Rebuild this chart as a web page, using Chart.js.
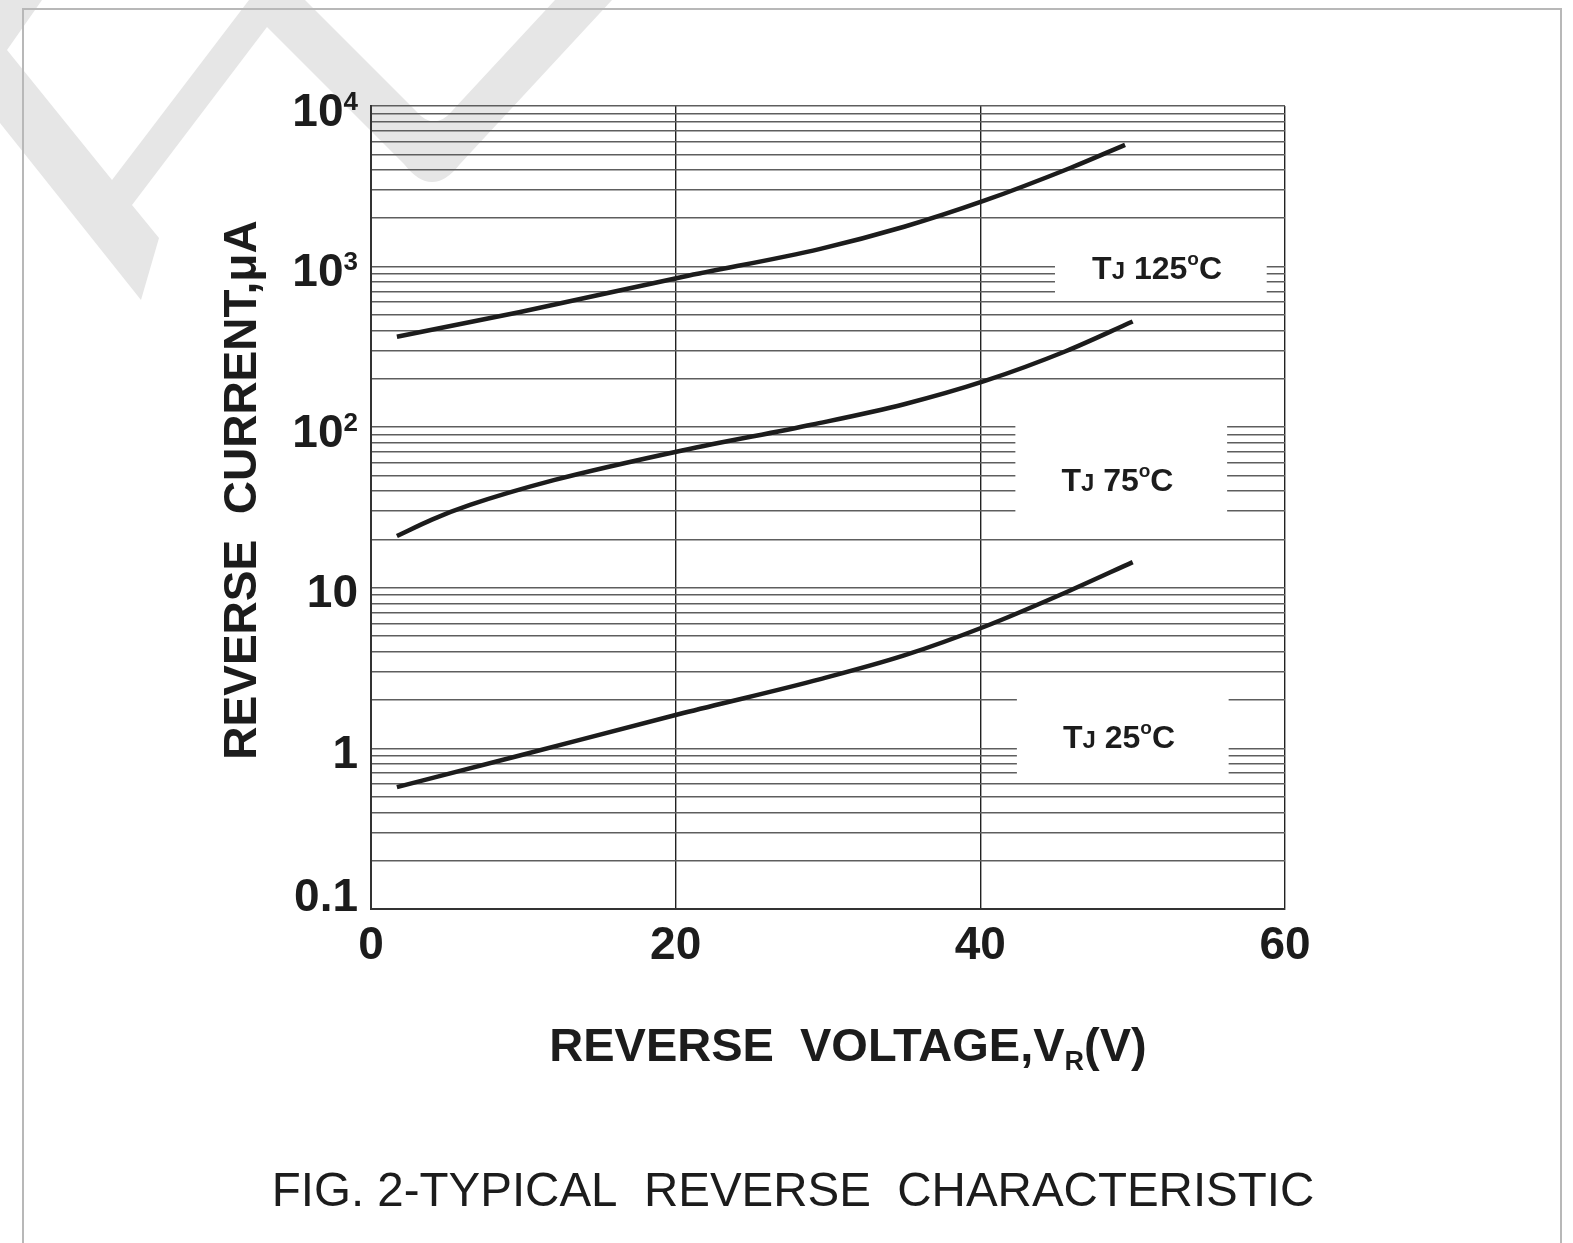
<!DOCTYPE html>
<html>
<head>
<meta charset="utf-8">
<title>FIG. 2 - Typical Reverse Characteristic</title>
<script src="https://cdn.jsdelivr.net/npm/chart.js@4.4.0/dist/chart.umd.min.js"></script>
<style>
  html, body { margin: 0; padding: 0; background: #fff; }
  #wrap { width: 1573px; height: 1243px; }
</style>
</head>
<body>
<div id="wrap"><canvas id="reverseChart" width="1573" height="1243"></canvas></div>
<script>
// Curves: reverse voltage (V) vs reverse current (uA)
const voltage125 = [1.7, 9.8, 20.5, 29.5, 35, 40.3, 45.9, 49.5];
const current125 = [366, 522, 865, 1290, 1770, 2580, 4110, 5730];

const voltage75 = [1.7, 4, 6.5, 12, 20.5, 29, 35, 40.3, 45.6, 50];
const current75 = [21, 26.6, 32.8, 46.8, 71.9, 104, 139, 194, 297, 455];

const voltage25 = [1.7, 9.7, 20.5, 29.5, 35, 40.3, 45.6, 50];
const current25 = [0.574, 0.90, 1.66, 2.70, 3.79, 5.74, 9.35, 14.45];

// axis ticks
const xTicks = [0, 20, 40, 60];
const yGridValues = [
  0.1, 0.2, 0.3, 0.4, 0.5, 0.6, 0.7, 0.8, 0.9,
  1, 2, 3, 4, 5, 6, 7, 8, 9,
  10, 20, 30, 40, 50, 60, 70, 80, 90,
  100, 200, 300, 400, 500, 600, 700, 800, 900,
  1000, 2000, 3000, 4000, 5000, 6000, 7000, 8000, 9000,
  10000
];
const yDecades = [0.1, 1, 10, 100, 1000, 10000];
const yDecadeText = ['0.1', '1', '10', '10', '10', '10'];
const yDecadeSup = ['', '', '', '2', '3', '4'];

// curve labels
const tempLabels = ['125', '75', '25'];

const FONT = '"Liberation Sans", Arial, Helvetica, sans-serif';
const INK = '#1c1c1c';

// where the curve labels sit (data units) and the white gap cut into the grid for them
const labelSpots = [
  { x: 51.6, y: 990,  box: [44.9, 58.8, 650, 1900] },
  { x: 49.0, y: 47,   box: [42.3, 56.2, 29, 128] },
  { x: 49.1, y: 1.19, box: [42.4, 56.3, 0.68, 2.6] }
];

function toPoints(xs, ys) {
  return xs.map((v, i) => ({ x: v, y: ys[i] }));
}

function drawWatermark(c) {
  c.fillStyle = '#e6e6e6';
  c.beginPath();
  c.moveTo(0, 0);
  c.lineTo(42, 0);
  c.lineTo(7, 50);
  c.lineTo(112, 180);
  c.lineTo(249, 0);
  c.lineTo(305, 0);
  c.lineTo(416, 111);
  c.quadraticCurveTo(434, 132, 452, 111);
  c.lineTo(555, 0);
  c.lineTo(612, 0);
  c.lineTo(460, 164);
  c.quadraticCurveTo(432, 200, 404, 164);
  c.lineTo(267, 27);
  c.lineTo(132, 205);
  c.lineTo(159, 238);
  c.lineTo(141, 300);
  c.lineTo(0, 123);
  c.closePath();
  c.fill();
}

function measureRun(c, parts, weight) {
  let total = 0;
  parts.forEach(p => {
    c.font = weight + ' ' + p.size + 'px ' + FONT;
    p.w = c.measureText(p.t).width;
    total += p.w;
  });
  return total;
}

// draws a run of text pieces (different sizes / baseline shifts) starting at x
function drawRun(c, parts, x, baseline, weight) {
  measureRun(c, parts, weight);
  let cx = x;
  parts.forEach(p => {
    c.font = weight + ' ' + p.size + 'px ' + FONT;
    c.fillText(p.t, cx, baseline + (p.dy || 0));
    cx += p.w;
  });
}

const decor = {
  id: 'decor',
  beforeDraw(chart) {
    const c = chart.ctx;
    c.save();
    c.fillStyle = '#fff';
    c.fillRect(0, 0, chart.width, chart.height);
    drawWatermark(c);
    // outer frame
    c.strokeStyle = '#b8b8b8';
    c.lineWidth = 2;
    c.beginPath();
    c.moveTo(23, chart.height + 5);
    c.lineTo(23, 9);
    c.lineTo(1561, 9);
    c.lineTo(1561, chart.height + 5);
    c.stroke();
    c.restore();
  },
  afterDatasetsDraw(chart) {
    const c = chart.ctx;
    const xs = chart.scales.x, ys = chart.scales.y;
    c.save();
    labelSpots.forEach((s, i) => {
      const x0 = xs.getPixelForValue(s.box[0]), x1 = xs.getPixelForValue(s.box[1]);
      const y0 = ys.getPixelForValue(s.box[3]), y1 = ys.getPixelForValue(s.box[2]);
      c.fillStyle = '#fff';
      c.fillRect(x0, y0, x1 - x0, y1 - y0);

      const parts = [
        { t: 'T', size: 32 },
        { t: 'J', size: 24 },
        { t: ' ' + tempLabels[i], size: 32 },
        { t: 'o', size: 19, dy: -14 },
        { t: 'C', size: 32 }
      ];
      const w = measureRun(c, parts, 'bold');
      const cx = xs.getPixelForValue(s.x), cy = ys.getPixelForValue(s.y);
      c.fillStyle = INK;
      c.textAlign = 'left';
      c.textBaseline = 'alphabetic';
      drawRun(c, parts, cx - w / 2, cy + 11.5, 'bold');
    });
    c.restore();
  },
  afterDraw(chart) {
    const c = chart.ctx;
    const ys = chart.scales.y;
    c.save();
    c.fillStyle = INK;
    c.textAlign = 'left';
    c.textBaseline = 'alphabetic';

    // y decade labels (10 with superscript exponent)
    yDecades.forEach((v, i) => {
      const y = Math.min(ys.getPixelForValue(v) + 3, ys.bottom - 15);
      const parts = [{ t: yDecadeText[i], size: 46 }];
      if (yDecadeSup[i]) parts.push({ t: yDecadeSup[i], size: 26, dy: -16 });
      const w = measureRun(c, parts, 'bold');
      drawRun(c, parts, 358 - w, y + 16.5, 'bold');
    });

    // x axis title
    const xTitle = [
      { t: 'REVERSE  VOLTAGE,V', size: 47 },
      { t: 'R', size: 27, dy: 9 },
      { t: '(V)', size: 47 }
    ];
    const xw = measureRun(c, xTitle, 'bold');
    drawRun(c, xTitle, 848 - xw / 2, 1061, 'bold');

    // y axis title
    c.save();
    c.translate(256, 490);
    c.rotate(-Math.PI / 2);
    c.textAlign = 'center';
    c.font = 'bold 46px ' + FONT;
    c.fillText('REVERSE  CURRENT,\u03bcA', 0, 0);
    c.restore();

    // caption
    c.textAlign = 'center';
    c.font = '47.5px ' + FONT;
    c.fillText('FIG. 2-TYPICAL  REVERSE  CHARACTERISTIC', 793, 1206);
    c.restore();
  }
};

const curveStyle = {
  borderColor: INK,
  borderWidth: 4.5,
  pointRadius: 0,
  fill: false,
  cubicInterpolationMode: 'monotone'
};

new Chart(document.getElementById('reverseChart'), {
  type: 'line',
  data: {
    datasets: [
      Object.assign({ label: 'TJ 125\u00b0C', data: toPoints(voltage125, current125) }, curveStyle),
      Object.assign({ label: 'TJ 75\u00b0C', data: toPoints(voltage75, current75) }, curveStyle),
      Object.assign({ label: 'TJ 25\u00b0C', data: toPoints(voltage25, current25) }, curveStyle)
    ]
  },
  options: {
    responsive: false,
    animation: false,
    devicePixelRatio: 1,
    layout: { padding: { left: 0, right: 288, top: 106, bottom: 0 } },
    plugins: {
      legend: { display: false },
      tooltip: { enabled: false }
    },
    scales: {
      x: {
        type: 'linear',
        min: 0,
        max: 60,
        afterBuildTicks: axis => { axis.ticks = xTicks.map(v => ({ value: v })); },
        afterFit: axis => { axis.height = 334; },
        grid: { color: '#222', lineWidth: 1.4, drawTicks: false },
        border: { display: true, color: '#333', width: 2 },
        ticks: {
          color: INK,
          padding: 10,
          maxRotation: 0,
          autoSkip: false,
          font: { family: FONT, size: 46, weight: 'bold' }
        }
      },
      y: {
        type: 'logarithmic',
        min: 0.1,
        max: 10000,
        afterBuildTicks: axis => { axis.ticks = yGridValues.map(v => ({ value: v })); },
        afterFit: axis => { axis.width = 371; },
        grid: { color: '#5e5e5e', lineWidth: 1.6, drawTicks: false },
        border: { display: true, color: '#333', width: 2 },
        ticks: { display: false }
      }
    }
  },
  plugins: [decor]
});
</script>
</body>
</html>
